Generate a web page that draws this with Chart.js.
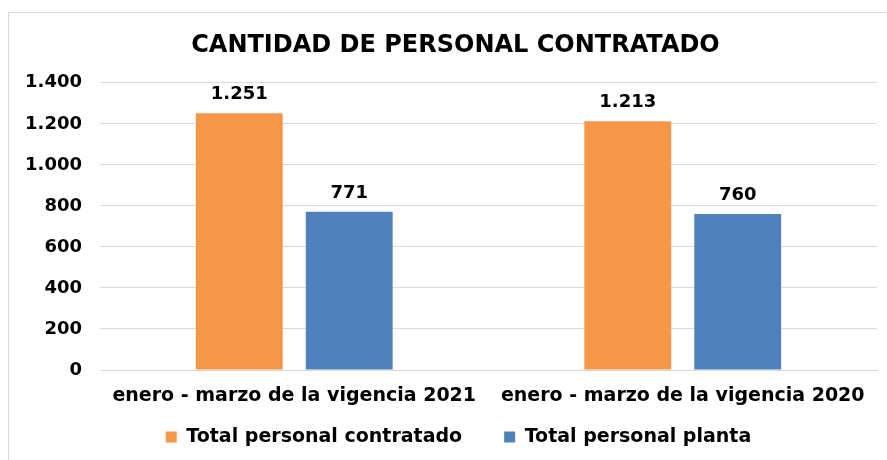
<!DOCTYPE html>
<html>
<head>
<meta charset="utf-8">
<script src="https://cdn.jsdelivr.net/npm/chart.js@4/dist/chart.umd.min.js"></script>
<style>
  body { margin: 0; background: #fff; }
  #frame { position: absolute; left: 8px; top: 12px; width: 900px; height: 460px; border: 1px solid #d9d9d9; }
  #wrap { position: absolute; left: 0; top: 0; width: 887px; height: 460px; }
</style>
</head>
<body>
<div id="frame"></div>
<div id="wrap"><canvas id="chart"></canvas></div>
<script>
// datos
const categories = ['enero - marzo de la vigencia 2021', 'enero - marzo de la vigencia 2020'];
const contratado = [1251, 1213];
const planta = [771, 760];
const yTicks = [0, 200, 400, 600, 800, 1000, 1200, 1400];

const FONT = '"DejaVu Sans", Verdana, sans-serif';

function fmt(v) {
    return String(v).replace(/\B(?=(\d{3})+(?!\d))/g, '.');
}

// etiquetas encima de cada barra
const valueLabels = {
    id: 'valueLabels',
    afterDatasetsDraw(chart) {
        const ctx = chart.ctx;
        ctx.save();
        ctx.font = 'bold 18px ' + FONT;
        ctx.fillStyle = '#000';
        ctx.textAlign = 'center';
        ctx.textBaseline = 'alphabetic';
        chart.data.datasets.forEach((ds, i) => {
            chart.getDatasetMeta(i).data.forEach((bar, j) => {
                ctx.fillText(fmt(ds.data[j]), bar.x, bar.y - 14);
            });
        });
        ctx.restore();
    }
};

// ajuste fino de titulo y leyenda (el grafico original no los centra en el canvas)
const nudge = {
    id: 'nudge',
    afterLayout(chart) {
        const t = chart.titleBlock;
        if (t) { t.left += 7; t.right += 7; }
        const l = chart.legend;
        if (l) {
            l.top = 385.6;
            l.height = l.bottom - l.top;
            l.left += 10; l.right += 10;
        }
    }
};

new Chart(document.getElementById('chart'), {
    type: 'bar',
    data: {
        labels: categories,
        datasets: [
            { label: 'Total personal contratado', data: contratado, backgroundColor: '#F79646' },
            { label: 'Total personal planta', data: planta, backgroundColor: '#4F81BD' }
        ]
    },
    options: {
        responsive: true,
        maintainAspectRatio: false,
        animation: false,
        categoryPercentage: 0.566,
        barPercentage: 0.79,
        layout: { padding: { left: 20, right: 10, top: 20, bottom: 1.6 } },
        plugins: {
            title: {
                display: true,
                text: 'CANTIDAD DE PERSONAL CONTRATADO',
                color: '#000',
                font: { family: FONT, size: 24, weight: 'bold' },
                padding: { top: 11, bottom: 23 }
            },
            legend: {
                position: 'bottom',
                maxHeight: 50.6,
                labels: {
                    color: '#000',
                    font: { family: FONT, size: 19, weight: 'bold' },
                    boxWidth: 11,
                    boxHeight: 11,
                    padding: 42
                }
            },
            tooltip: { enabled: false }
        },
        scales: {
            x: {
                afterFit(scale) {
                    scale.height = 37.8;
                },
                grid: { display: false, drawTicks: false },
                border: { color: '#d9d9d9' },
                ticks: {
                    color: '#000',
                    font: { family: FONT, size: 19, weight: 'bold' },
                    padding: 15
                }
            },
            y: {
                min: 0,
                max: 1400,
                afterBuildTicks(scale) {
                    scale.ticks = yTicks.map(v => ({ value: v }));
                },
                afterFit(scale) {
                    scale.width = 80;
                },
                grid: { color: '#d9d9d9', drawTicks: false },
                border: { display: false },
                ticks: {
                    color: '#000',
                    font: { family: FONT, size: 18, weight: 'bold' },
                    padding: 18,
                    callback: v => fmt(v)
                }
            }
        }
    },
    plugins: [valueLabels, nudge]
});
</script>
</body>
</html>
